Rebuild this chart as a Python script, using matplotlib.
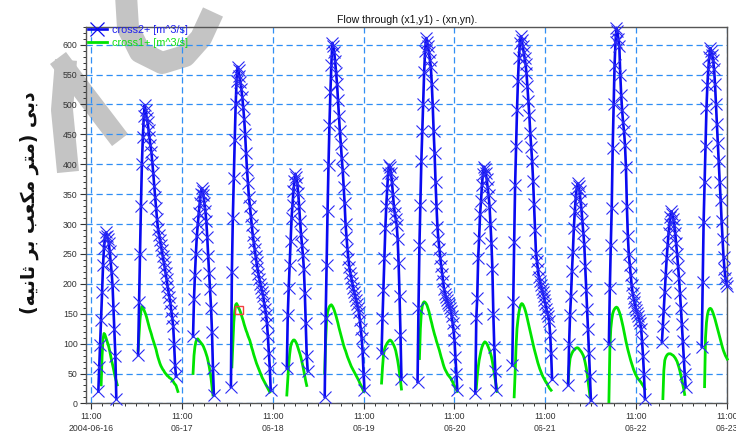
import numpy as np
import pandas as pd
import matplotlib
matplotlib.use("Agg")
import matplotlib.pyplot as plt
import matplotlib.dates as mdates
from matplotlib.lines import Line2D
from matplotlib.ticker import MultipleLocator, FixedLocator

plt.rcParams["font.family"] = ["Liberation Sans", "DejaVu Sans"]

STEP = pd.Timedelta(minutes=15)

# ---- cross2+ : positive flow segments (15-minute samples) ----
cross2_starts = [
    "2004-06-16 13:00", "2004-06-16 23:30", "2004-06-17 14:00", "2004-06-18 00:00",
    "2004-06-18 14:45", "2004-06-19 00:45", "2004-06-19 15:45", "2004-06-20 01:15",
    "2004-06-20 16:30", "2004-06-21 02:15", "2004-06-21 17:00", "2004-06-22 03:45",
    "2004-06-22 17:45", "2004-06-23 04:15",
]
cross2_01 = [20, 61, 98, 140, 187, 232, 260, 278, 286,
             280, 275, 268, 255, 238, 220, 198, 160, 125, 80, 8]
cross2_02 = [81, 170, 250, 330, 400, 445, 480, 499,
             490, 478, 470, 458, 445, 432, 421, 403, 385, 364, 345, 326, 308, 292,
             282, 274, 265, 256, 246, 237, 228, 218, 208, 197, 187, 178, 168, 155,
             143, 130, 100, 65, 45]
cross2_03 = [112, 175, 215, 250, 280, 300, 318, 335, 350, 360,
             355, 348, 335, 322, 305, 278, 246, 218, 192, 160, 120, 60, 14]
cross2_04 = [28, 220, 310, 377, 440, 500, 540, 563,
             557, 548, 538, 525, 512, 495, 475, 450, 418, 390, 368, 345, 330, 313,
             298, 282, 270, 258, 247, 236, 226, 216, 208, 200, 193, 186, 179, 168,
             158, 148, 135, 112, 85, 60, 22]
cross2_05 = [59, 148, 193, 232, 271, 310, 332, 355, 372, 384,
             378, 368, 352, 330, 305, 283, 265, 248, 225, 185, 135, 80, 55]
cross2_06 = [11, 142, 232, 321, 399, 466, 520, 566, 603,
             598, 588, 572, 553, 535, 508, 480, 455, 434, 410, 390, 362, 335, 300,
             278, 258, 242, 228, 218, 210, 202, 193, 186, 180, 173, 166, 159, 153,
             140, 125, 110, 88, 50, 22]
cross2_07 = [84, 142, 190, 243, 293, 330, 360, 385, 399,
             395, 385, 370, 350, 330, 318, 308, 298, 275, 235, 180, 115, 40]
cross2_08 = [36, 159, 265, 332, 405, 455, 500, 555, 590, 611,
             605, 597, 587, 575, 563, 535, 499, 455, 418, 370, 330, 295, 275, 258,
             243, 230, 217, 204, 191, 183, 178, 173, 168, 164, 159, 155, 146, 135,
             122, 106, 78, 50, 22]
cross2_09 = [17, 142, 176, 243, 276, 316, 338, 366, 383, 396,
             392, 385, 375, 362, 348, 330, 300, 268, 225, 150, 95, 55, 22]
cross2_10 = [64, 170, 270, 365, 430, 490, 540, 578, 602, 614,
             608, 598, 588, 577, 568, 552, 530, 505, 482, 452, 428, 405, 372, 333,
             290, 252, 238, 225, 212, 205, 198, 192, 186, 180, 173, 166, 158, 152,
             146, 138, 115, 85, 40]
cross2_11 = [31, 100, 148, 180, 221, 254, 293, 321, 343, 360, 368,
             364, 355, 340, 325, 305, 285, 266, 230, 190, 158, 125, 85, 45, 5]
cross2_12 = [100, 193, 265, 327, 427, 500, 566, 605, 628,
             622, 610, 598, 550, 515, 490, 470, 455, 432, 395, 330, 280, 250, 232,
             215, 198, 185, 177, 170, 162, 156, 151, 146, 140, 134, 125, 105, 80,
             50, 8]
cross2_13 = [103, 130, 155, 187, 215, 243, 265, 285, 300, 312, 321,
             316, 308, 298, 285, 268, 250, 230, 210, 185, 160, 132, 105, 75, 50, 28]
cross2_14 = [95, 203, 304, 370, 430, 494, 533, 560, 580, 594,
             590, 582, 575, 560, 535, 500, 468, 435, 405, 370, 340, 305, 275, 245,
             225, 210, 202, 196]

# ---- cross1+ : positive flow segments (15-minute samples) ----
cross1_starts = [
    "2004-06-16 13:45", "2004-06-16 23:30", "2004-06-17 14:00", "2004-06-18 00:15",
    "2004-06-18 14:45", "2004-06-19 00:45", "2004-06-19 15:45", "2004-06-20 01:45",
    "2004-06-20 16:45", "2004-06-21 02:45", "2004-06-21 17:00", "2004-06-22 03:45",
    "2004-06-22 18:00", "2004-06-23 05:00",
]
cross1_01 = [31, 80, 108, 117, 115, 110, 105, 100, 95, 88, 80, 72, 65, 58, 50, 43, 37, 31]
cross1_02 = [89, 115, 140, 155, 162,
             160, 157, 153, 149, 144, 138, 132, 126, 121, 116, 110, 105, 100, 95,
             90, 83, 77, 72, 67, 63, 60, 57, 55, 52, 50, 48, 46, 45, 43, 42, 41,
             39, 37, 34, 32, 30, 25, 20]
cross1_03 = [50, 80, 95, 103, 107, 108, 106, 104, 102, 100, 98, 95, 91, 87, 82, 77,
             70, 62, 53, 42, 28, 14]
cross1_04 = [61, 100, 135, 155, 165, 167,
             164, 160, 157, 153, 148, 143, 138, 132, 127, 122, 118, 113, 109, 105,
             99, 93, 88, 82, 77, 72, 67, 63, 59, 55, 51, 47, 43, 40, 37, 34, 31,
             28, 25, 22, 19]
cross1_05 = [14, 40, 65, 82, 95, 101, 104, 106, 106, 104, 101, 97, 92, 87, 82, 76,
             69, 62, 54, 45, 37, 30]
cross1_06 = [50, 105, 140, 152, 158, 162, 164, 165,
             163, 160, 156, 151, 146, 140, 134, 127, 121, 115, 109, 103, 97, 92,
             88, 83, 78, 74, 70, 66, 62, 59, 56, 53, 50, 47, 44, 41, 38, 34, 31,
             28, 24, 20]
cross1_07 = [34, 60, 80, 90, 95, 98, 101, 103, 105, 106, 105, 103, 100, 97, 93, 88,
             80, 72, 62, 50, 38, 24]
cross1_08 = [75, 125, 152, 163, 168, 170,
             169, 167, 164, 159, 154, 147, 140, 134, 127, 121, 115, 110, 104, 99,
             94, 89, 83, 77, 72, 66, 61, 57, 54, 51, 48, 46, 44, 42, 39, 36, 32,
             29, 26, 23, 20]
cross1_09 = [25, 45, 60, 72, 80, 88, 94, 98, 101, 103, 102, 100, 97, 93, 89, 84, 78,
             70, 60, 50, 40, 30, 20]
cross1_10 = [11, 50, 95, 125, 140, 152, 160, 165, 167,
             166, 163, 159, 154, 148, 141, 134, 127, 120, 113, 106, 99, 92, 86, 80,
             74, 68, 63, 58, 54, 50, 46, 43, 40, 37, 35, 32, 29, 26, 24, 22]
cross1_11 = [36, 60, 75, 80, 84, 87, 89, 91, 92, 93, 93, 92, 90, 88, 86, 83, 80, 75,
             68, 60, 50, 38, 25, 12]
cross1_12 = [3, 90, 125, 140, 150, 155, 158, 160, 161,
             160, 157, 153, 148, 142, 135, 128, 120, 112, 104, 97, 90, 84, 78, 72,
             67, 62, 57, 53, 49, 46, 43, 41, 39, 37, 35, 32, 30, 27, 24]
cross1_13 = [8, 55, 72, 77, 80, 82, 83, 83, 83, 82, 81, 80, 78, 76, 73, 70, 65, 60,
             54, 47, 40, 32, 24, 15]
cross1_14 = [28, 110, 135, 148, 155, 158, 159, 158, 155, 151, 146, 141, 135, 129,
             123, 117, 111, 105, 99, 93, 88, 84, 80, 77, 74]

cross2_segments = [cross2_01, cross2_02, cross2_03, cross2_04, cross2_05, cross2_06,
                   cross2_07, cross2_08, cross2_09, cross2_10, cross2_11, cross2_12,
                   cross2_13, cross2_14]
cross1_segments = [cross1_01, cross1_02, cross1_03, cross1_04, cross1_05, cross1_06,
                   cross1_07, cross1_08, cross1_09, cross1_10, cross1_11, cross1_12,
                   cross1_13, cross1_14]

# data cursor shown on cross1+ (segment 4, sample 8)
cursor_segment, cursor_index = 4, 8

tick_dates = ["2004-06-16", "06-17", "06-18", "06-19", "06-20", "06-21", "06-22", "06-23"]
tick_times = pd.date_range("2004-06-16 11:00", periods=8, freq="D")
x_start, x_end = pd.Timestamp("2004-06-16 09:45"), pd.Timestamp("2004-06-23 11:00")

title = "Flow through (x1,y1) - (xn,yn)."
# Persian axis label "دبی (متر مکعب بر ثانیه)" written with presentation forms in display order
ylabel = "(\uFEEA\uFEF4\uFEE7\uFE8E\uFE9B \uFEAE\uFE91 \uFE90\uFECC\uFEDC\uFEE3 \uFEAE\uFE98\uFEE3) \uFEF0\uFE91\uFEA9"


def build(starts, segments):
    t, v = [], []
    for s, vals in zip(starts, segments):
        ts = pd.Timestamp(s) + STEP * np.arange(len(vals))
        t.extend(ts)
        v.extend(vals)
        t.append(ts[-1] + STEP / 2)
        v.append(np.nan)
    return mdates.date2num(pd.DatetimeIndex(t).to_pydatetime()), np.array(v, float)


t2, v2 = build(cross2_starts, cross2_segments)
t1, v1 = build(cross1_starts, cross1_segments)

W, H = 736, 432
fig = plt.figure(figsize=(W / 100, H / 100), dpi=100)
fig.patch.set_facecolor("white")


def fig_xy(points):
    pts = np.array(points, float)
    return pts[:, 0] / W, 1 - pts[:, 1] / H


# grey watermark behind the plot
wm = "#c4c4c4"
for pts, lw in [
    ([(126, -5), (128, 28), (140, 52), (162, 63), (185, 56), (201, 38), (213, 12)], 22),
    ([(58, 58), (88, 98), (120, 140)], 20),
    ([(66, 60), (62, 110), (68, 172)], 22),
]:
    xs, ys = fig_xy(pts)
    fig.add_artist(Line2D(xs, ys, transform=fig.transFigure, color=wm, lw=lw * 0.72,
                          solid_capstyle="butt", solid_joinstyle="round", zorder=-5))

ax = fig.add_axes([86 / W, (H - 403.4) / H, (727.3 - 86) / W, (403.4 - 26.7) / H])
ax.set_facecolor("none")

grid_c = "#2f8ff5"
ax.plot(t1, v1, color="#00e400", lw=2.0, zorder=3, clip_on=False)
ax.plot(t2, v2, color="#0a0af0", lw=1.9, marker="x", ms=8.3, mew=0.8,
        mec="#2a2af5", zorder=4, clip_on=False)

# cursor square on cross1+
seg = cross1_segments[cursor_segment - 1]
ct = pd.Timestamp(cross1_starts[cursor_segment - 1]) + STEP * cursor_index
ax.plot(mdates.date2num(ct.to_pydatetime()), seg[cursor_index], marker="s", ms=6.3,
        mfc="none", mec="#f04040", mew=1.0, zorder=6)

ax.set_xlim(mdates.date2num(x_start.to_pydatetime()), mdates.date2num(x_end.to_pydatetime()))
ax.set_ylim(0, 630)

ax.xaxis.set_major_locator(FixedLocator(mdates.date2num(tick_times.to_pydatetime())))
ax.set_xticklabels(["11:00\n" + d for d in tick_dates])
ax.xaxis.set_minor_locator(mdates.HourLocator(byhour=[2, 5, 8, 11, 14, 17, 20, 23]))
ax.yaxis.set_major_locator(MultipleLocator(50))
ax.yaxis.set_minor_locator(MultipleLocator(10))
ax.set_yticks(np.arange(0, 601, 50))

ax.tick_params(axis="both", which="major", labelsize=6.3, colors="#333333",
               length=4, width=0.8, direction="out", pad=2)
ax.tick_params(axis="both", which="minor", length=2.5, width=0.7, color="#333333",
               direction="out")
ax.tick_params(top=False, right=False)
for lab in ax.get_xticklabels():
    lab.set_linespacing(1.4)

ax.grid(True, which="major", color=grid_c, linestyle=(0, (5, 3)), linewidth=0.9, zorder=1)
for s in ax.spines.values():
    s.set_color("#555555")
    s.set_linewidth(1.0)

ax.set_title(title, fontsize=7.6, pad=3, color="#111111")

handles = [Line2D([], [], color="#0a0af0", lw=1.9, marker="x", ms=9.5, mew=0.9),
           Line2D([], [], color="#00e400", lw=2.0)]
leg = ax.legend(handles, ["cross2+ [m^3/s]", "cross1+ [m^3/s]"], loc="upper left",
                bbox_to_anchor=(0.0, 1.01), frameon=False, fontsize=7.8,
                handlelength=1.7, handletextpad=0.5, labelspacing=0.25,
                borderpad=0.1, borderaxespad=0.1, numpoints=1)
for txt, c in zip(leg.get_texts(), ["#2020f0", "#10e010"]):
    txt.set_color(c)

fig.text(29 / W, 1 - 203 / H, ylabel, rotation=90, ha="center", va="center",
         fontsize=13.5, fontweight="bold", family=["DejaVu Sans"], color="#111111")

fig.savefig("out.png", dpi=100)
